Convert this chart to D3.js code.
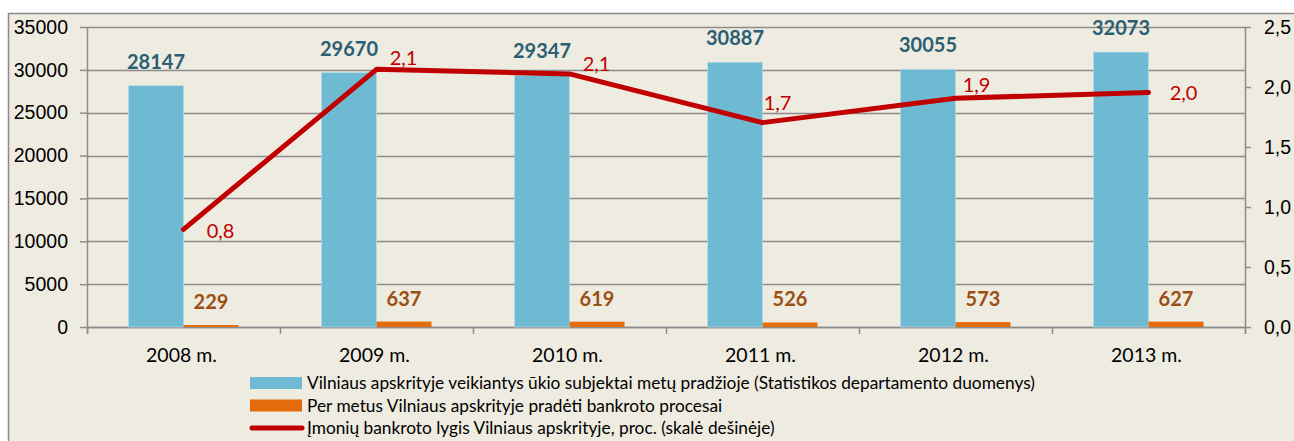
<!DOCTYPE html>
<html>
<head>
<meta charset="utf-8">
<title>Vilniaus apskrities bankrotai</title>
<script src="https://cdn.jsdelivr.net/npm/d3@7"></script>
<style>
body {
  margin: 0;
  background: #fff;
}
svg {
  display: block;
  font-family: Lato, "Open Sans", sans-serif;
}
.grid line { stroke: #8c8c8c; stroke-width: 1.5px; }
.axis path, .axis line { stroke: #8c8c8c; stroke-width: 1.5px; }
.axis text { font-size: 19.5px; fill: #000; }
.lbl-blue { font-size: 20px; font-weight: bold; fill: #2b5f73; text-anchor: middle; }
.lbl-orange { font-size: 20px; font-weight: bold; fill: #9c4f12; text-anchor: middle; }
.lbl-line { font-size: 20px; fill: #c00000; text-anchor: middle; }
.legend text { font-size: 17.3px; fill: #000; }
</style>
</head>
<body>
<script>
// duomenys
var years = ["2008 m.", "2009 m.", "2010 m.", "2011 m.", "2012 m.", "2013 m."];
var subjects = [28147, 29670, 29347, 30887, 30055, 32073];
var bankruptcies = [229, 637, 619, 526, 573, 627];
var rate = [0.814, 2.147, 2.109, 1.703, 1.906, 1.955];
var leftTicks = [0, 5000, 10000, 15000, 20000, 25000, 30000, 35000];
var rightTicks = [0, 0.5, 1, 1.5, 2, 2.5];
var legendNames = [
  "Vilniaus apskrityje veikiantys ūkio subjektai metų pradžioje (Statistikos departamento duomenys)",
  "Per metus Vilniaus apskrityje pradėti bankroto procesai",
  "Įmonių bankroto lygis Vilniaus apskrityje, proc. (skalė dešinėje)"
];
// rankiniai etikečių poslinkiai (kaip Excel'yje)
var rateLabelNudge = [[37, 2], [27, -11], [27, -10], [15, -20], [21, -13], [35, 1]];

var W = 1294, H = 441,
  margin = {top: 27, right: 49, bottom: 114, left: 87},
  width = W - margin.left - margin.right,
  height = H - margin.top - margin.bottom;

var svg = d3.select("body").append("svg")
  .attr("width", W)
  .attr("height", H);

svg.append("rect")
  .attr("x", 8.5).attr("y", 13.5)
  .attr("width", W).attr("height", H)
  .attr("fill", "#eeebe1")
  .attr("stroke", "#8a8a8a")
  .attr("stroke-width", 1.5);

var g = svg.append("g").attr("transform", "translate(" + margin.left + "," + margin.top + ")");

var x = d3.scaleBand().domain(years).range([0, width]);
var y = d3.scaleLinear().domain([0, 35000]).range([height, 0]);
var y2 = d3.scaleLinear().domain([0, 2.5]).range([height, 0]);
var bw = x.bandwidth(), barW = bw * 0.285;
var fmtRate = function(v) { return d3.format(".1f")(v).replace(".", ","); };

// tinklelis
g.append("g").attr("class", "grid")
  .selectAll("line").data(leftTicks).enter().append("line")
  .attr("x1", 0).attr("x2", width)
  .attr("y1", function(d) { return Math.round(y(d)) + 0.5; })
  .attr("y2", function(d) { return Math.round(y(d)) + 0.5; });

// kairė ašis
var yAxis = g.append("g").attr("class", "axis")
  .call(d3.axisLeft(y).tickValues(leftTicks).tickSize(7).tickPadding(12).tickFormat(d3.format("d")));
yAxis.select(".domain").attr("d", "M0.5,0V" + (height + 7));

// dešinė ašis
var yAxis2 = g.append("g").attr("class", "axis")
  .attr("transform", "translate(" + width + ",0)")
  .call(d3.axisRight(y2).tickValues(rightTicks).tickSize(6).tickPadding(13).tickFormat(fmtRate));
yAxis2.select(".domain").attr("d", "M0.5,0V" + (height + 7));

// x ašis
var xAxis = g.append("g").attr("class", "axis")
  .attr("transform", "translate(0," + height + ")");
xAxis.append("line").attr("x1", 0).attr("x2", width).attr("y1", 0.5).attr("y2", 0.5);
xAxis.selectAll(".tk").data(d3.range(years.length + 1)).enter().append("line")
  .attr("x1", function(i) { return Math.round(i * bw) + 0.5; })
  .attr("x2", function(i) { return Math.round(i * bw) + 0.5; })
  .attr("y1", 0).attr("y2", 7);
xAxis.selectAll("text").data(years).enter().append("text")
  .attr("x", function(d) { return x(d) + bw / 2 - 2; })
  .attr("y", 35)
  .attr("text-anchor", "middle")
  .text(function(d) { return d; });

// stulpeliai
g.selectAll(".bar-blue").data(subjects).enter().append("rect")
  .attr("x", function(d, i) { return x(years[i]) + bw / 2 - barW; })
  .attr("y", function(d) { return y(d); })
  .attr("width", barW)
  .attr("height", function(d) { return height - y(d); })
  .attr("fill", "#6fbad3")
  .attr("stroke", "#b5dbe8").attr("stroke-width", 0.7);

g.selectAll(".bar-orange").data(bankruptcies).enter().append("rect")
  .attr("x", function(d, i) { return x(years[i]) + bw / 2; })
  .attr("y", function(d) { return y(d); })
  .attr("width", barW)
  .attr("height", function(d) { return height - y(d); })
  .attr("fill", "#e46c0a");

g.selectAll(".lbl-blue").data(subjects).enter().append("text")
  .attr("class", "lbl-blue")
  .attr("x", function(d, i) { return x(years[i]) + bw / 2 - barW / 2; })
  .attr("y", function(d) { return y(d) - 17; })
  .text(function(d) { return d; });

g.selectAll(".lbl-orange").data(bankruptcies).enter().append("text")
  .attr("class", "lbl-orange")
  .attr("x", function(d, i) { return x(years[i]) + bw / 2 + barW / 2; })
  .attr("y", function(d) { return y(d) - 16; })
  .text(function(d) { return d; });

// linija
var line = d3.line()
  .x(function(d, i) { return x(years[i]) + bw / 2; })
  .y(function(d) { return y2(d); });

g.append("path").datum(rate)
  .attr("d", line)
  .attr("fill", "none")
  .attr("stroke", "#c00000")
  .attr("stroke-width", 5)
  .attr("stroke-linecap", "round")
  .attr("stroke-linejoin", "round");

g.selectAll(".lbl-line").data(rate).enter().append("text")
  .attr("class", "lbl-line")
  .attr("x", function(d, i) { return x(years[i]) + bw / 2 + rateLabelNudge[i][0]; })
  .attr("y", function(d, i) { return y2(d) + rateLabelNudge[i][1]; })
  .attr("dy", "0.35em")
  .text(fmtRate);

// legenda
var legend = svg.append("g").attr("class", "legend")
  .attr("transform", "translate(250,383)");
var rows = legend.selectAll("g").data(legendNames).enter().append("g")
  .attr("transform", function(d, i) { return "translate(0," + (i * 22.5) + ")"; });
rows.each(function(d, i) {
  var r = d3.select(this);
  if (i < 2) {
    r.append("rect").attr("x", 0).attr("y", -6).attr("width", 52).attr("height", 12)
      .attr("fill", i === 0 ? "#6fbad3" : "#e46c0a");
  } else {
    r.append("line").attr("x1", 2).attr("x2", 52).attr("y1", 0).attr("y2", 0)
      .attr("stroke", "#c00000").attr("stroke-width", 5).attr("stroke-linecap", "round");
  }
  r.append("text").attr("x", 57).attr("dy", "0.35em").text(d);
});
</script>
</body>
</html>
